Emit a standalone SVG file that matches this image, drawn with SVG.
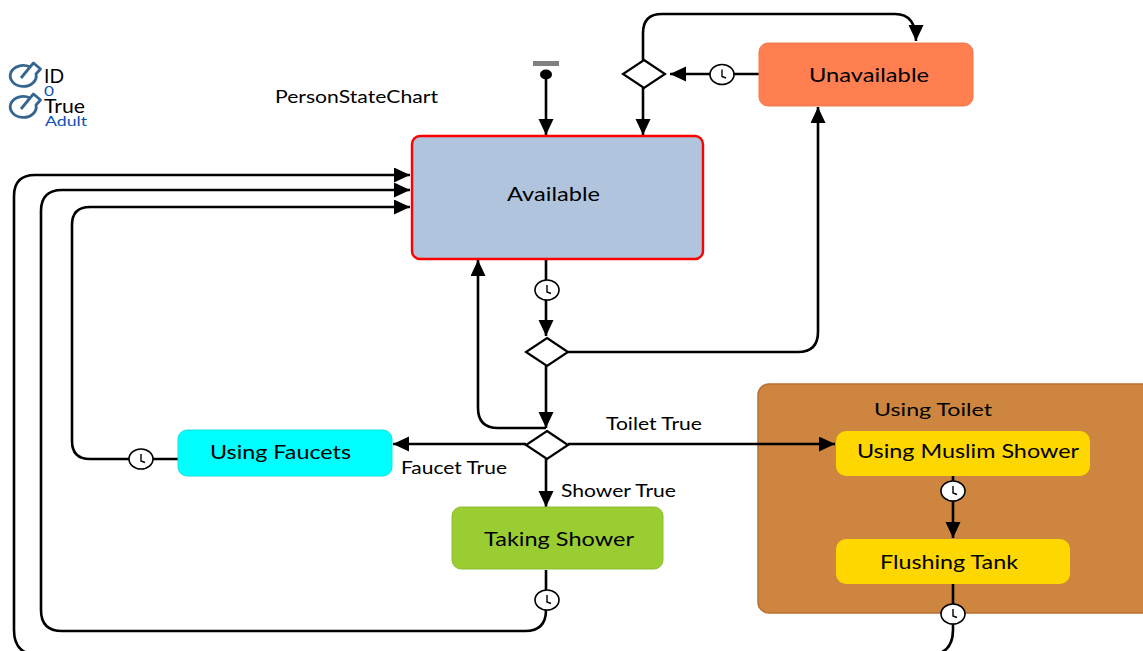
<svg xmlns="http://www.w3.org/2000/svg" width="1143" height="651" viewBox="0 0 1143 651">
<style>
text{font-family:"Lato","Open Sans","Liberation Sans",sans-serif;fill:#000}
.l{font-size:16.500px}
.n{font-size:19px}
.b{fill:#0b50b4;font-size:14px}
.c{fill:none;stroke:#000;stroke-width:2.6}
.d{fill:#fff;stroke:#000;stroke-width:2.2}
.k{fill:#fff;stroke:#000;stroke-width:1.6}
.h{fill:none;stroke:#000;stroke-width:1.4}
.m{fill:none;stroke:#35668f;stroke-width:2.800;stroke-linejoin:round}
</style>
<defs>
<marker id="a" markerUnits="userSpaceOnUse" markerWidth="18" markerHeight="16" refX="16" refY="7.5" orient="auto"><path d="M0 0L16 7.500L0 15Z" fill="#000"/></marker>
<g id="clk"><ellipse class="k" cx="0" cy="0" rx="12" ry="10"/><path class="h" d="M0-5V2L4 3.500"/></g>
<g id="meter"><path class="m" d="M7-9A13 10.500 0 1 0 13-2L17.500-7L10.500-13L7-9L-2 2"/></g>
</defs>
<g id="meters">
<use href="#meter" x="23" y="76"/>
<use href="#meter" x="23" y="107"/>
<text x="44" y="83" font-size="19" textLength="20" lengthAdjust="spacingAndGlyphs">ID</text>
<text class="b" x="44" y="96" textLength="10" lengthAdjust="spacingAndGlyphs">0</text>
<text x="44" y="113" font-size="19" textLength="41" lengthAdjust="spacingAndGlyphs">True</text>
<text class="b" x="45" y="126" textLength="42" lengthAdjust="spacingAndGlyphs">Adult</text>
</g>
<text class="l" x="275" y="103" textLength="163" lengthAdjust="spacingAndGlyphs">PersonStateChart</text>
<g id="group-toilet"><rect x="758" y="384" width="395" height="229" rx="11" fill="#cd853f" stroke="#b96f35" stroke-width="1.5"/><text class="l" x="874" y="416" textLength="118" lengthAdjust="spacingAndGlyphs" style="font-size:18px">Using Toilet</text></g>
<g id="connectors">
<path class="c" d="M546 74V135" marker-end="url(#a)"/>
<path class="c" d="M643 88V135" marker-end="url(#a)"/>
<path class="c" d="M643 60V33Q643 14 662 14H895Q916 14 916 41" marker-end="url(#a)"/>
<path class="c" d="M759 74H670" marker-end="url(#a)"/>
<path class="c" d="M546 260V336" marker-end="url(#a)"/>
<path class="c" d="M568 352H798Q818 352 818 332V107" marker-end="url(#a)"/>
<path class="c" d="M546 366V428" marker-end="url(#a)"/>
<path class="c" d="M546 428H498Q478 428 478 408V260" marker-end="url(#a)"/>
<path class="c" d="M526 444H393" marker-end="url(#a)"/>
<path class="c" d="M568 444H835" marker-end="url(#a)"/>
<path class="c" d="M546 459V507" marker-end="url(#a)"/>
<path class="c" d="M178 459H90Q72 459 72 441V225Q72 207 90 207H410" marker-end="url(#a)"/>
<path class="c" d="M546 570V610Q546 631 525 631H62Q41 631 41 610V211Q41 190 62 190H410" marker-end="url(#a)"/>
<path class="c" d="M953 476V538" marker-end="url(#a)"/>
<path class="c" d="M953 584V630Q953 655 928 655H39Q14 655 14 630V196Q14 175 35 175H410" marker-end="url(#a)"/>
</g>
<g id="init"><rect x="533" y="61" width="26" height="5" fill="#808080"/><ellipse cx="546" cy="74.500" rx="6" ry="5" fill="#000"/></g>
<g id="available"><rect x="412" y="136" width="291" height="123" rx="8" fill="#b0c4de" stroke="#f00" stroke-width="2.4"/><text class="n" x="507" y="201" textLength="93" lengthAdjust="spacingAndGlyphs">Available</text></g>
<g id="unavailable"><rect x="759" y="43" width="214" height="63" rx="9" fill="#ff7f50" stroke="#f2794c"/><text class="n" x="809" y="82" textLength="120" lengthAdjust="spacingAndGlyphs">Unavailable</text></g>
<g id="using-faucets"><rect x="178" y="430" width="214" height="46" rx="9" fill="#0ff" stroke="#16e0e0"/><text class="n" x="210" y="459" textLength="141" lengthAdjust="spacingAndGlyphs">Using Faucets</text></g>
<g id="taking-shower"><rect x="452" y="507" width="211" height="62" rx="9" fill="#9acd32" stroke="#8dbd2e"/><text class="n" x="484" y="546" textLength="150" lengthAdjust="spacingAndGlyphs">Taking Shower</text></g>
<g id="using-muslim-shower"><rect x="836" y="431" width="254" height="45" rx="10" fill="#ffd700"/><text class="n" x="857" y="458" textLength="222" lengthAdjust="spacingAndGlyphs">Using Muslim Shower</text></g>
<g id="flushing-tank"><rect x="836" y="539" width="234" height="45" rx="10" fill="#ffd700"/><text class="n" x="880" y="569" textLength="138" lengthAdjust="spacingAndGlyphs">Flushing Tank</text></g>
<g id="diamonds">
<path class="d" d="M644 60L665 74L644 88L623 74Z"/>
<path class="d" d="M547 338L568 352L547 366L526 352Z"/>
<path class="d" d="M547 431L568 445L547 459L526 445Z"/>
</g>
<g id="timers">
<use href="#clk" x="722" y="74.500"/>
<use href="#clk" x="547" y="290"/>
<use href="#clk" x="141" y="459"/>
<use href="#clk" x="547" y="600"/>
<use href="#clk" x="953" y="491"/>
<use href="#clk" x="953" y="614"/>
</g>
<g id="labels">
<text class="l" x="606" y="430" textLength="96" lengthAdjust="spacingAndGlyphs">Toilet True</text>
<text class="l" x="401" y="474" textLength="106" lengthAdjust="spacingAndGlyphs">Faucet True</text>
<text class="l" x="561" y="497" textLength="115" lengthAdjust="spacingAndGlyphs">Shower True</text>
</g>
</svg>
